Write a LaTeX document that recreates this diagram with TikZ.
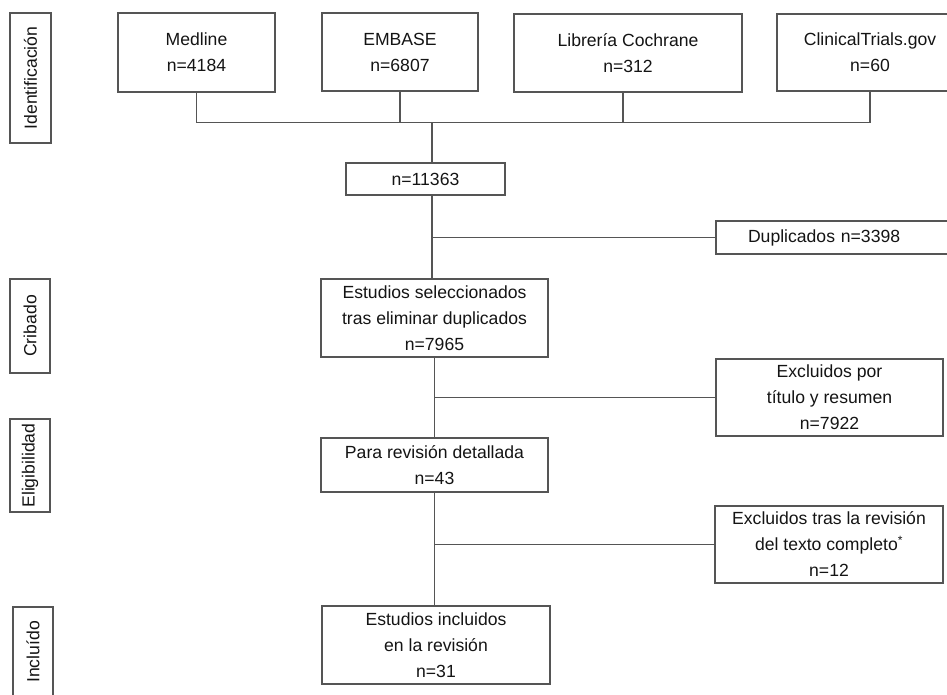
\documentclass[tikz,border=0pt]{standalone}
\usepackage{fontspec}
\setmainfont{Liberation Sans}
\definecolor{linec}{RGB}{85,85,85}
\definecolor{textc}{RGB}{20,20,20}
\tikzset{every picture/.style={line width=1.2pt}}

\begin{document}
\begin{tikzpicture}[x=1pt,y=1pt,yscale=-1,
  box/.style={draw=linec, text=textc, align=center, inner sep=0pt, font=\fontsize{17.6}{26}\selectfont},
  stage/.style={box, rotate=90, minimum height=40pt},
  link/.style={draw=linec}]
\useasboundingbox (0,0) rectangle (947,695);
\clip (0,0) rectangle (947,695);

% Fases
\node [stage, minimum width=130pt, minimum height=41pt] (ident) at (30.5,78) {Identificación};
\node [stage, minimum width=94pt] (crib) at (30,326) {Cribado};
\node [stage, minimum width=93pt] (elig) at (30,465.5) {Eligibilidad};
\node [stage, minimum width=90pt] (inclf) at (33,652) {Incluído};

% Bases de datos
\node [box, minimum width=157pt, minimum height=79pt] (medline) at (196.5,52.5) {Medline\\n=4184};
\node [box, minimum width=156pt, minimum height=78pt] (embase) at (400,52) {EMBASE\\n=6807};
\node [box, minimum width=228pt, minimum height=78pt] (cochrane) at (628,53) {Librería Cochrane\\n=312};
\node [box, minimum width=186pt, minimum height=77pt] (clinical) at (870,52.5) {ClinicalTrials.gov\\n=60};

% Flujo central
\node [box, minimum width=159pt, minimum height=32pt] (total) at (425.5,179) {n=11363};
\node [box, minimum width=244pt, minimum height=33pt, text width=180pt, align=left, inner xsep=32pt] (dup) at (838,237.5) {Duplicados n=3398};
\node [box, minimum width=227pt, minimum height=78pt] (sel) at (434.5,318) {Estudios seleccionados\\tras eliminar duplicados\\n=7965};
\node [box, minimum width=227pt, minimum height=77pt] (excl1) at (829.5,397.5) {Excluidos por\\título y resumen\\n=7922};
\node [box, minimum width=227pt, minimum height=54pt] (rev) at (434.5,465) {Para revisión detallada\\n=43};
\node [box, minimum width=228pt, minimum height=77pt] (excl2) at (829,544.5) {Excluidos tras la revisión\\del texto completo\textsuperscript{\large *}\\n=12};
\node [box, minimum width=228pt, minimum height=78pt] (inc) at (436,645) {Estudios incluidos\\en la revisión\\n=31};

% Conectores
\coordinate (jtop) at (432,122.5);
\draw [link] (medline.south) |- (clinical.south |- jtop) -- (clinical.south);
\draw [link] (embase.south) -- (embase.south |- jtop);
\draw [link] ([xshift=-5pt]cochrane.south) -- ([xshift=-5pt]cochrane.south |- jtop);
\draw [link] (jtop) -- (jtop |- total.north);
\draw [link] (total.south -| jtop) -- (jtop |- sel.north);
\draw [link] (dup.west) -- (dup.west -| jtop);
\draw [link] (sel.south) -- (rev.north);
\draw [link] (excl1.west) -- (excl1.west -| sel.south);
\draw [link] (rev.south) -- (rev.south |- inc.north);
\draw [link] (excl2.west) -- (excl2.west -| rev.south);
\end{tikzpicture}
\end{document}
